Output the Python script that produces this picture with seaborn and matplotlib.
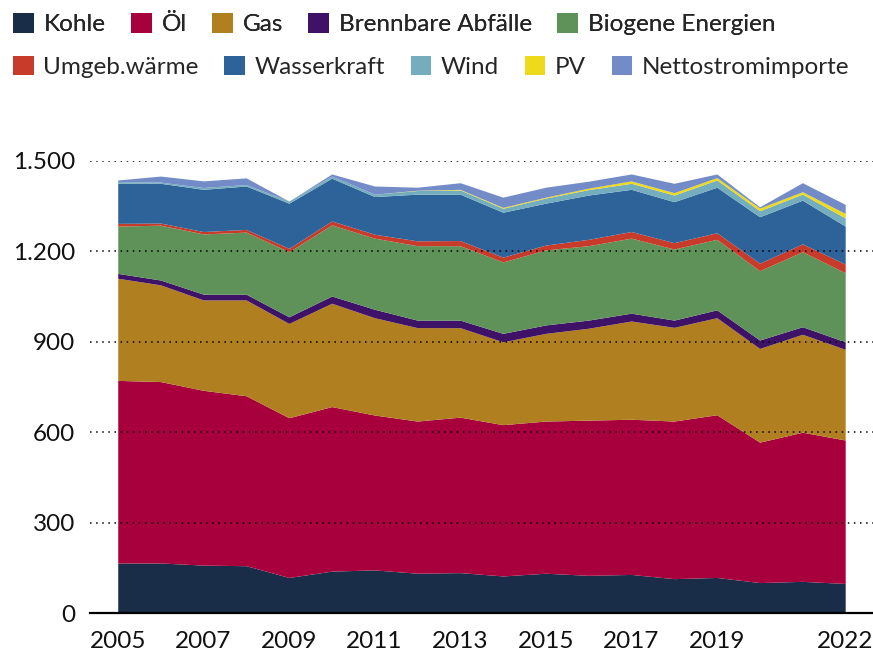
"""Stacked area chart of energy sources 2005-2022."""

import matplotlib

matplotlib.use("Agg")
import matplotlib.pyplot as plt
from matplotlib.patches import Patch
from matplotlib.ticker import FuncFormatter
import numpy as np
import pandas as pd
import seaborn as sns


YEARS = list(range(2005, 2023))
SERIES_NAMES = [
    "Kohle", "Öl", "Gas", "Brennbare Abfälle", "Biogene Energien",
    "Umgeb.wärme", "Wasserkraft", "Wind", "PV", "Nettostromimporte",
]
COLORS = [
    "#192d48", "#a8003c", "#b07f1f", "#3e1266", "#5e9259",
    "#c83a2a", "#2e6399", "#74aebe", "#eed91a", "#738cc8",
]

kohle = [166, 166, 159, 157, 118, 139, 143, 132, 134, 123, 132, 125, 128, 114, 118, 101, 105, 98]
oel = [606, 602, 580, 564, 530, 546, 514, 505, 516, 502, 505, 515, 515, 523, 540, 466, 495, 476]
gas = [339, 321, 300, 318, 313, 343, 323, 310, 297, 275, 291, 305, 326, 311, 322, 311, 325, 301]
abfaelle = [16, 16, 19, 19, 22, 24, 28, 25, 25, 28, 28, 27, 26, 24, 26, 28, 25, 25]
biogen = [157, 182, 200, 206, 216, 236, 236, 247, 247, 237, 249, 247, 249, 236, 234, 230, 249, 229]
umgebung = [9, 7, 8, 9, 11, 13, 13, 16, 17, 16, 16, 21, 22, 21, 22, 25, 26, 29]
wasser = [133, 132, 140, 144, 150, 142, 125, 155, 154, 149, 139, 147, 140, 136, 151, 154, 145, 126]
wind = [6, 4, 6, 5, 7, 7, 8, 12, 14, 13, 17, 18, 20, 22, 24, 20, 20, 27]
pv = [0, 0, 0, 0, 0, 0, 0, 1, 2, 3, 3, 5, 8, 8, 8, 9, 8, 15]
importe = [5, 20, 22, 22, 0, 7, 27, 10, 22, 34, 33, 23, 23, 31, 12, 4, 30, 30]

X_TICKS = [2005, 2007, 2009, 2011, 2013, 2015, 2017, 2019, 2022]
Y_TICKS = [0, 300, 600, 900, 1200, 1500]


def main() -> None:
    sns.set_theme(style="white")
    plt.rcParams["font.family"] = ["Lato", "DejaVu Sans"]

    df = pd.DataFrame(
        dict(zip(SERIES_NAMES, [kohle, oel, gas, abfaelle, biogen, umgebung,
                                wasser, wind, pv, importe])),
        index=YEARS,
    )

    fig = plt.figure(figsize=(8.73, 6.59), dpi=100)
    ax = fig.add_axes([0.103, 0.0698, 0.897, 0.6859])

    ax.stackplot(df.index, df.T.values, colors=COLORS, linewidth=0)

    ax.set_xlim(2004.35, 2022.65)
    ax.set_ylim(0, 1500)
    ax.set_xticks(X_TICKS)
    ax.set_yticks(Y_TICKS)
    ax.yaxis.set_major_formatter(
        FuncFormatter(lambda v, _: f"{int(v):,}".replace(",", "."))
    )
    ax.tick_params(axis="both", length=0, labelsize=17.5, colors="#111111")
    ax.tick_params(axis="x", pad=13)
    ax.tick_params(axis="y", pad=10.5)

    ax.grid(axis="y", color="black", linestyle=(0, (1, 3)), linewidth=1.1)
    ax.set_axisbelow(False)
    for side in ["top", "right", "left"]:
        ax.spines[side].set_visible(False)
    ax.spines["bottom"].set_color("black")
    ax.spines["bottom"].set_linewidth(1.6)

    handles = [Patch(facecolor=c, edgecolor="none") for c in COLORS]
    leg_kw = dict(
        ncol=5, frameon=False, fontsize=17.5, handlelength=0.85,
        handleheight=0.85, handletextpad=0.4, columnspacing=1.05,
        borderaxespad=0, borderpad=0,
    )
    first = fig.legend(handles[:5], SERIES_NAMES[:5], loc="upper left",
                       bbox_to_anchor=(0.015, 0.98), **leg_kw)
    fig.add_artist(first)
    fig.legend(handles[5:], SERIES_NAMES[5:], loc="upper left",
               bbox_to_anchor=(0.015, 0.915), **leg_kw)

    fig.savefig("out.png", dpi=100)
    plt.close(fig)


if __name__ == "__main__":
    main()
